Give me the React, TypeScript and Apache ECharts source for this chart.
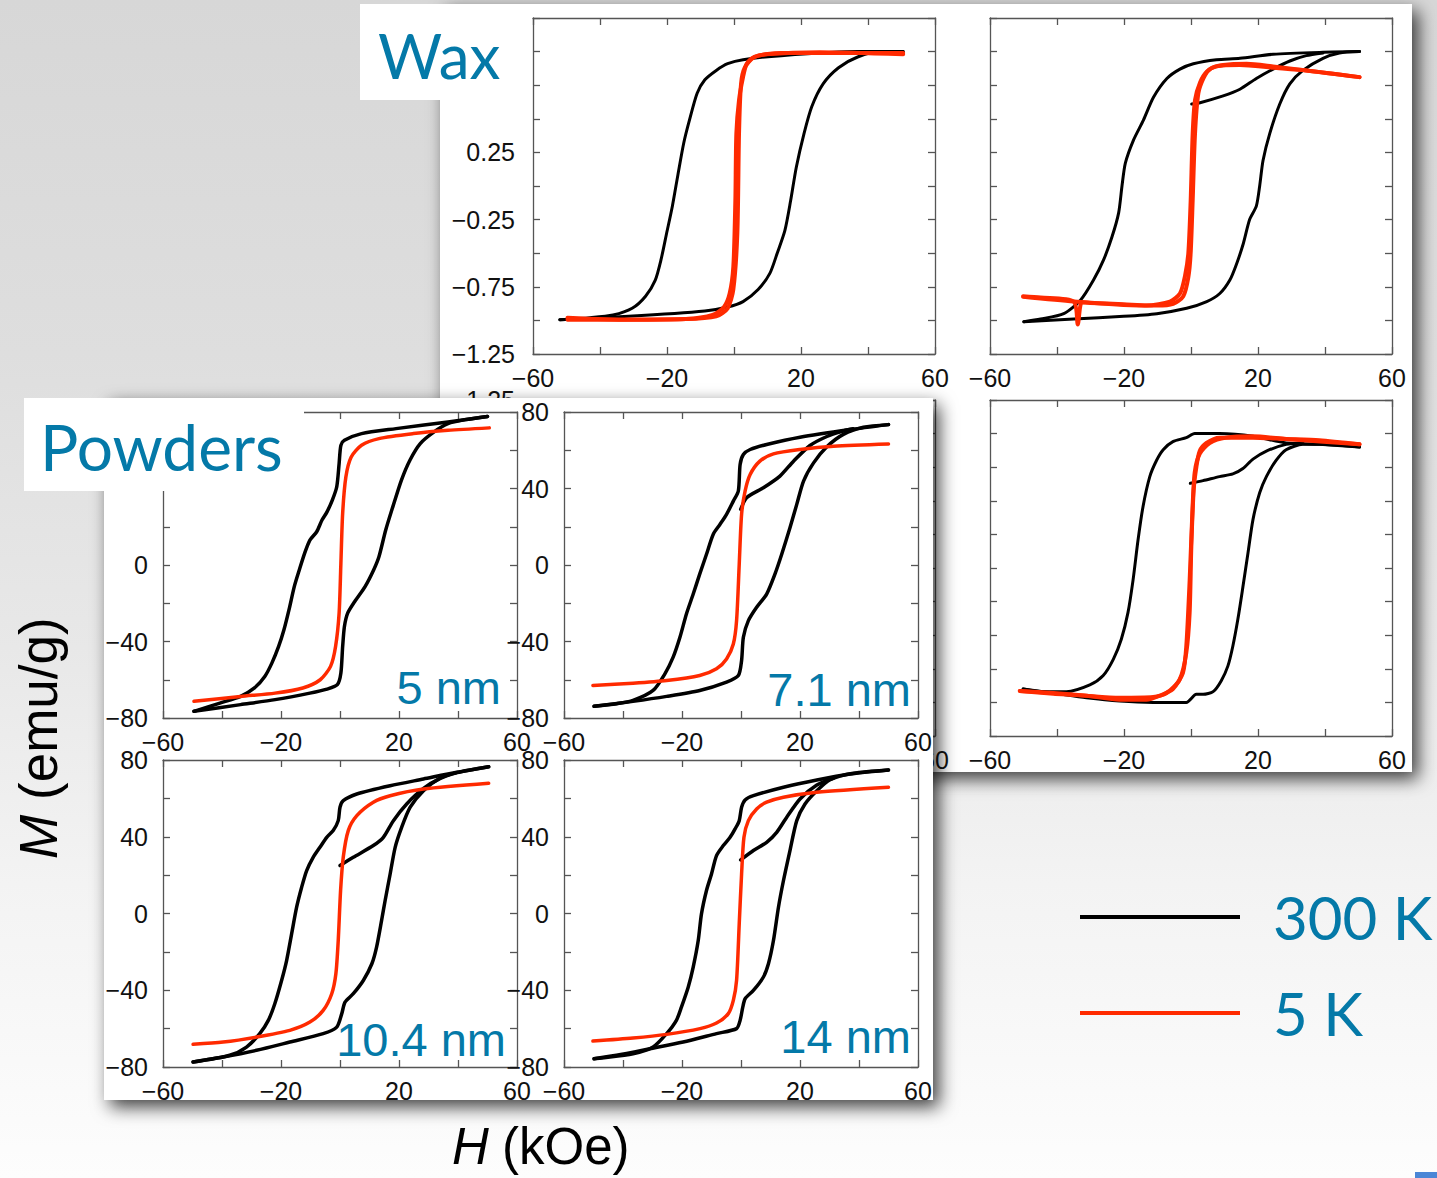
import React, { useEffect, useRef } from "react";
import * as echarts from "echarts";

type Pt = [number, number];

// ---- axes -------------------------------------------------------------
const H_MIN = -60, H_MAX = 60, H_STEP = 20;
const hTickLabels = [-60, -20, 20, 60];

const WAX_MIN = -1.25, WAX_MAX = 1.25, WAX_STEP = 0.25;
const waxTickLabels = [-1.25, -0.75, -0.25, 0.25, 0.75, 1.25];

const POW_MIN = -80, POW_MAX = 80, POW_STEP = 20;
const powTickLabels = [-80, -40, 0, 40, 80];

// ---- wax-dispersed particles, normalised moment M/Ms ------------------
// 5 nm
const wax5_300K_down: Pt[] = [[50.5,1.0],[36.9,1.0],[14.1,0.97],[2.7,0.94],[-1.9,0.91],[-5.3,0.86],[-8.7,0.79],[-11,0.69],[-13.3,0.49],[-15,0.32],[-16.7,0.09],[-18.4,-0.15],[-20.1,-0.35],[-21.8,-0.55],[-23.5,-0.7],[-26.4,-0.82],[-30.4,-0.91],[-36.1,-0.96],[-42.9,-0.98],[-52,-0.995]];
const wax5_300K_up: Pt[] = [[-52,-0.995],[-31.5,-0.97],[-8.7,-0.93],[-1.9,-0.9],[2.7,-0.86],[7.2,-0.77],[10.7,-0.65],[12.9,-0.5],[15.2,-0.33],[16.9,-0.11],[18.6,0.14],[20.9,0.39],[23.2,0.59],[26.6,0.76],[31.2,0.88],[36.9,0.96],[43.7,1.0],[50.5,1.0]];
const wax5_5K_down: Pt[] = [[50.5,0.98],[25.5,0.995],[9.5,0.98],[6.1,0.96],[3.8,0.91],[2.7,0.81],[1.5,0.64],[0.7,0.39],[0.4,-0.11],[-0.2,-0.6],[-1.3,-0.8],[-3,-0.9],[-6.4,-0.96],[-14.4,-0.99],[-31.5,-0.995],[-49.7,-0.98]];
const wax5_5K_up: Pt[] = [[-49.7,-0.995],[-14.4,-0.99],[-5.3,-0.97],[-1.9,-0.91],[-0.2,-0.77],[1,-0.35],[1.5,0.39],[2.1,0.76],[3.2,0.88],[6.1,0.96],[14.1,0.99],[50.5,0.99]];

// 7.1 nm
const wax71_300K_down: Pt[] = [[50.3,1.0],[39.4,0.995],[24.5,0.98],[14.6,0.95],[7.6,0.94],[0.7,0.91],[-3.3,0.87],[-7.2,0.8],[-11.2,0.66],[-14.2,0.49],[-17.2,0.34],[-19.6,0.17],[-20.6,0.0],[-21.6,-0.2],[-23.6,-0.38],[-26.1,-0.55],[-29.1,-0.7],[-33,-0.85],[-38,-0.95],[-44.9,-0.99],[-49.9,-1.01]];
const wax71_300K_up: Pt[] = [[-49.9,-1.01],[-35,-0.99],[-20.1,-0.97],[-10.2,-0.95],[-1.3,-0.91],[4.7,-0.86],[8.6,-0.8],[11.6,-0.7],[13.6,-0.58],[15.6,-0.43],[17.5,-0.25],[19.5,-0.15],[20.5,0.0],[21.5,0.19],[23.5,0.39],[26.5,0.61],[29.5,0.76],[33.4,0.86],[39.4,0.95],[44.3,0.99],[50.3,1.0]];
const wax71_300K_virgin: Pt[] = [[0.2,0.61],[2.7,0.62],[9.6,0.67],[14.6,0.72],[19.5,0.8],[24.5,0.87],[29.5,0.93],[34.4,0.97],[39.4,0.99]];
const wax71_5K_down: Pt[] = [[50.3,0.81],[34.4,0.86],[24.5,0.88],[14.6,0.9],[7.6,0.89],[4.7,0.85],[2.7,0.77],[1.2,0.64],[0.5,0.39],[-0.1,-0.11],[-0.8,-0.5],[-1.8,-0.67],[-3.3,-0.8],[-6.3,-0.86],[-13.2,-0.89],[-20.1,-0.88],[-30.1,-0.87],[-32.6,-0.865],[-33.8,-1.03],[-35,-0.86],[-44.9,-0.83],[-50.1,-0.82]];
const wax71_5K_up: Pt[] = [[-50.1,-0.825],[-35,-0.86],[-20.1,-0.885],[-10.2,-0.89],[-5.3,-0.877],[-2.3,-0.82],[-0.8,-0.68],[-0.1,-0.5],[0.5,-0.11],[1.2,0.39],[2.2,0.69],[3.7,0.8],[5.6,0.87],[9.6,0.9],[16.6,0.91],[24.5,0.89],[34.4,0.86],[50.3,0.81]];

// 14 nm
const wax14_300K_down: Pt[] = [[50.3,0.9],[38.3,0.92],[28.4,0.93],[18.5,0.98],[8.5,1.0],[1.1,1.0],[-1.4,0.97],[-5.4,0.94],[-8.3,0.88],[-10.3,0.8],[-12.3,0.68],[-14.3,0.46],[-15.8,0.21],[-17.3,-0.09],[-18.8,-0.33],[-20.8,-0.53],[-23.2,-0.68],[-26.2,-0.8],[-30.2,-0.87],[-37.2,-0.92],[-44.1,-0.92],[-50.1,-0.9]];
const wax14_300K_up: Pt[] = [[-50.1,-0.9],[-41.1,-0.93],[-31.2,-0.965],[-21.3,-0.99],[-11.3,-1.0],[-1.4,-1.0],[1.6,-0.94],[3.6,-0.94],[6.6,-0.92],[9,-0.84],[11,-0.73],[12.5,-0.58],[14,-0.38],[15.5,-0.14],[17,0.11],[18.5,0.36],[20.5,0.56],[22.5,0.68],[25.4,0.8],[28.4,0.88],[33.4,0.92],[38.3,0.92],[50.3,0.9]];
const wax14_300K_virgin: Pt[] = [[-0.2,0.63],[3.6,0.65],[8.5,0.68],[12.5,0.7],[15.5,0.74],[18.5,0.81],[22.5,0.87],[28.4,0.92],[33.4,0.93]];
const wax14_5K_down: Pt[] = [[50.3,0.92],[38.3,0.95],[28.4,0.96],[18.5,0.97],[8.5,0.97],[4.6,0.93],[2.6,0.87],[1.6,0.75],[0.8,0.58],[0.1,0.16],[-0.4,-0.33],[-1.4,-0.63],[-3.4,-0.83],[-7.3,-0.93],[-11.3,-0.96],[-21.3,-0.965],[-31.2,-0.95],[-41.1,-0.93],[-51.1,-0.915]];
const wax14_5K_up: Pt[] = [[-51.1,-0.915],[-41.1,-0.935],[-31.2,-0.95],[-21.3,-0.98],[-13.3,-0.98],[-9.3,-0.95],[-5.4,-0.9],[-2.4,-0.78],[-1.4,-0.58],[-0.4,-0.09],[0.4,0.41],[1.1,0.71],[2.6,0.85],[5.6,0.93],[10.5,0.97],[18.5,0.98],[28.4,0.96],[50.3,0.92]];

// ---- powders, M in emu/g ---------------------------------------------
// 5 nm
const pow5_300K_down: Pt[] = [[50,77.7],[36.6,74.8],[19,71.3],[7.3,68.7],[1.5,65.2],[0.3,62.6],[-0.3,53],[-1.1,40.9],[-2.6,33.9],[-4.4,27.8],[-6.1,23.5],[-7.9,17.4],[-10.2,13],[-12,6.1],[-13.8,-2.6],[-15.5,-11.3],[-17.3,-23.5],[-19,-33.9],[-20.8,-42.6],[-23.1,-51.3],[-25.5,-58.3],[-29,-64.3],[-33.7,-68.7],[-40.7,-72.2],[-49.5,-76.5]];
const pow5_300K_up: Pt[] = [[-49.5,-76.5],[-33.7,-73],[-22,-70.4],[-10.2,-67],[-4.4,-64.9],[-0.9,-62.6],[0.3,-56.5],[0.9,-42.6],[1.5,-32.2],[2.6,-25.2],[5,-19.1],[8.5,-11.3],[11.4,-2.6],[13.2,4.3],[15.5,18.3],[17.9,30.4],[20.8,44.3],[23.7,54.8],[27.2,63.5],[31.9,69.6],[36.6,73.9],[42.4,76],[50,77.7]];
const pow5_5K: Pt[] = [[-49.5,-71.3],[-33.7,-68.7],[-22,-67],[-12.6,-64.3],[-6.7,-60],[-3.2,-53],[-1.5,-42.6],[-0.3,-25.2],[0.3,0.9],[0.9,27],[2,46.1],[3.8,56.5],[7.3,62.6],[13.2,66.1],[24.9,68.7],[36.6,70.4],[50.6,71.7]];

// 7.1 nm
const pow71_300K_down: Pt[] = [[50,73.4],[37,70.8],[20,66.8],[8.7,63],[3.1,60.4],[0.8,57.8],[-0.3,52.6],[-0.9,38.7],[-2.6,33.4],[-4.9,26.5],[-7.1,21.3],[-9.4,16.1],[-11.7,5.6],[-14,-4.8],[-16.2,-15.2],[-18.5,-25.6],[-20.7,-37.8],[-23,-48.2],[-25.8,-56.9],[-29.8,-65.6],[-36.6,-70.8],[-42.2,-72.5],[-49.8,-73.9]];
const pow71_300K_up: Pt[] = [[-49.8,-73.9],[-36.6,-71.3],[-25.2,-68.7],[-14,-65.6],[-4.9,-61.2],[-0.9,-57.8],[0.2,-49.9],[0.8,-37.8],[2.5,-29.1],[5.3,-22.1],[8.7,-15.2],[11.5,-4.8],[13.8,5.6],[16.6,19.5],[18.9,31.7],[21.2,43.9],[24.6,53.4],[29.1,61.8],[34.7,68.3],[41.5,72],[50,73.4]];
const pow71_300K_virgin: Pt[] = [[-0.1,29.1],[1.9,35.2],[7.6,40.4],[13.2,46.5],[17.8,54.3],[23.4,62.5],[29.1,67.2],[34,69.8],[38,71.2]];
const pow71_5K: Pt[] = [[-50.2,-63],[-36.6,-61.8],[-25.2,-60.4],[-14,-57.8],[-8.3,-54.3],[-4.9,-49.1],[-2.6,-41.3],[-1.5,-29.1],[-0.6,0.4],[0.2,26.5],[1.4,38.7],[3.1,47.3],[6.4,54.3],[11,58.1],[20,60.4],[31.4,62.1],[50,63.3]];

// 10.4 nm
const pow104_300K_down: Pt[] = [[50.4,76.5],[39.6,73.6],[28.3,70.1],[17,66.6],[5.7,62.3],[1.1,58.8],[0,55.4],[-0.6,48.4],[-2.3,43.2],[-4.5,39.7],[-6.8,34.5],[-9.1,29.3],[-11.3,22.4],[-13,13.7],[-14.7,3.3],[-16.4,-10.6],[-18.1,-24.5],[-19.8,-34.9],[-22.1,-47],[-24.3,-55.7],[-27.2,-62.6],[-31.7,-69.6],[-37.4,-73.9],[-49.8,-77.4]];
const pow104_300K_up: Pt[] = [[-49.8,-77.4],[-39.6,-74.8],[-28.3,-71.3],[-17,-67],[-5.7,-62.6],[-1.1,-59.2],[0.6,-52.2],[1.7,-46.2],[4.5,-41.8],[7.9,-34.9],[10.8,-26.2],[12.4,-17.5],[14.1,-3.6],[15.3,6.8],[17,20.6],[18.7,34.5],[20.9,44.9],[23.8,55.4],[28.3,64],[34,70.6],[39.6,73.4],[50.4,76.5]];
const pow104_300K_virgin: Pt[] = [[0,25],[4.5,29.3],[11.3,35.4],[14.7,39.7],[18.1,48.4],[22.6,57.1],[28.3,65.2],[34,70.4],[39.6,73.4]];
const pow104_5K: Pt[] = [[-49.8,-68.2],[-39.6,-67],[-28.3,-64.4],[-17,-60.9],[-10.2,-56.6],[-5.7,-50.5],[-2.8,-41.8],[-1.4,-31.4],[-0.6,-14.1],[0.2,12],[1.1,29.3],[2.8,43.2],[5.7,51],[11.3,58],[17,61.4],[28.3,64.9],[50.4,67.9]];

// 14 nm
const pow14_300K_down: Pt[] = [[50,74.8],[37,72.7],[25.7,69.6],[14.4,65.8],[4.2,61.4],[1.4,59.2],[0.2,55.4],[-0.6,48.4],[-2,44.1],[-3.7,39.7],[-6,35.4],[-8.3,30.2],[-10,20.6],[-11.7,12],[-13.4,-0.2],[-14.5,-14.1],[-16.2,-27.9],[-17.9,-38.4],[-20.2,-48.8],[-21.9,-55.7],[-25.2,-62.6],[-29.8,-69.6],[-36.6,-73.1],[-49.8,-75.7]];
const pow14_300K_up: Pt[] = [[-49.8,-75.7],[-42.2,-73.9],[-30.9,-70.5],[-19.6,-67],[-8.3,-62.6],[-1.5,-60],[-0.3,-55.7],[0.6,-48.8],[1.4,-44.4],[4.2,-40.1],[7.6,-33.1],[9.3,-26.2],[11,-14.1],[12.7,3.3],[14.4,17.2],[16.6,32.8],[18.9,48.4],[21.7,57.1],[25.7,64],[30.2,69.8],[38.1,73.1],[50,74.8]];
const pow14_300K_virgin: Pt[] = [[-0.1,27.9],[4.2,32.8],[8.7,37.1],[12.1,42.3],[15.5,50.2],[20,59.7],[25.7,67],[31.4,70.6]];
const pow14_5K: Pt[] = [[-50.2,-66.5],[-36.6,-64.9],[-25.2,-63],[-13.9,-60],[-8.3,-57.1],[-4.3,-52.2],[-2.6,-45.3],[-1.5,-34.9],[-0.6,-5.4],[0.2,20.6],[1,39.7],[2.5,48.4],[5.3,54.5],[8.7,58],[14.4,60.6],[25.7,63.2],[50,65.8]];

// ---- styling ----------------------------------------------------------
const BLACK = "#000000";
const RED = "#ff2a00";
const BLUE = "#0479a8";
const FRAME = "#555555";
const TICK_FONT = "'Liberation Sans', Arial, Helvetica, sans-serif";
const SLIDE_FONT = "Lato, 'Open Sans', sans-serif";
const T300 = "300 K";
const T5 = "5 K";

type Curve = { name: string; data: Pt[]; width: number };
type Panel = {
  grid: { left: number; top: number; width: number; height: number };
  kind: "wax" | "pow";
  xLabels: number[];
  yLabels: number[];
  layer: number;
  curves: Curve[];
};

const panels: Panel[] = [
  // wax, 5 nm
  {
    grid: { left: 533, top: 18, width: 402, height: 336 }, kind: "wax", layer: 0,
    xLabels: hTickLabels, yLabels: waxTickLabels.filter((v) => v < 0.5),
    curves: [
      { name: T300, data: wax5_300K_down, width: 3 },
      { name: T300, data: wax5_300K_up, width: 3 },
      { name: T5, data: wax5_5K_down, width: 4 },
      { name: T5, data: wax5_5K_up, width: 4 },
    ],
  },
  // wax, 7.1 nm
  {
    grid: { left: 990, top: 18, width: 402, height: 336 }, kind: "wax", layer: 0,
    xLabels: hTickLabels, yLabels: [],
    curves: [
      { name: T300, data: wax71_300K_down, width: 3 },
      { name: T300, data: wax71_300K_up, width: 3 },
      { name: T300, data: wax71_300K_virgin, width: 3 },
      { name: T5, data: wax71_5K_down, width: 4 },
      { name: T5, data: wax71_5K_up, width: 4 },
    ],
  },
  // wax, 10.4 nm (lies under the powders sheet)
  {
    grid: { left: 533, top: 400, width: 402, height: 336 }, kind: "wax", layer: 0,
    xLabels: [60], yLabels: [1.25],
    curves: [],
  },
  // wax, 14 nm
  {
    grid: { left: 990, top: 400, width: 402, height: 336 }, kind: "wax", layer: 0,
    xLabels: hTickLabels, yLabels: [],
    curves: [
      { name: T300, data: wax14_300K_down, width: 3 },
      { name: T300, data: wax14_300K_up, width: 3 },
      { name: T300, data: wax14_300K_virgin, width: 3 },
      { name: T5, data: wax14_5K_down, width: 4 },
      { name: T5, data: wax14_5K_up, width: 4 },
    ],
  },
  // powders, 5 nm
  {
    grid: { left: 163, top: 412, width: 354, height: 306 }, kind: "pow", layer: 1,
    xLabels: hTickLabels, yLabels: powTickLabels.filter((v) => v <= 0),
    curves: [
      { name: T300, data: pow5_300K_down, width: 3.5 },
      { name: T300, data: pow5_300K_up, width: 3.5 },
      { name: T5, data: pow5_5K, width: 3.5 },
    ],
  },
  // powders, 7.1 nm
  {
    grid: { left: 564, top: 412, width: 354, height: 306 }, kind: "pow", layer: 1,
    xLabels: hTickLabels, yLabels: powTickLabels,
    curves: [
      { name: T300, data: pow71_300K_down, width: 3.5 },
      { name: T300, data: pow71_300K_up, width: 3.5 },
      { name: T300, data: pow71_300K_virgin, width: 3.5 },
      { name: T5, data: pow71_5K, width: 3.5 },
    ],
  },
  // powders, 10.4 nm
  {
    grid: { left: 163, top: 760, width: 354, height: 307 }, kind: "pow", layer: 1,
    xLabels: hTickLabels, yLabels: powTickLabels,
    curves: [
      { name: T300, data: pow104_300K_down, width: 3.5 },
      { name: T300, data: pow104_300K_up, width: 3.5 },
      { name: T300, data: pow104_300K_virgin, width: 3.5 },
      { name: T5, data: pow104_5K, width: 3.5 },
    ],
  },
  // powders, 14 nm
  {
    grid: { left: 564, top: 760, width: 354, height: 307 }, kind: "pow", layer: 1,
    xLabels: hTickLabels, yLabels: powTickLabels,
    curves: [
      { name: T300, data: pow14_300K_down, width: 3.5 },
      { name: T300, data: pow14_300K_up, width: 3.5 },
      { name: T300, data: pow14_300K_virgin, width: 3.5 },
      { name: T5, data: pow14_5K, width: 3.5 },
    ],
  },
];

const sizeLabels = [
  { text: "5 nm", x: 501, y: 687 },
  { text: "7.1 nm", x: 911, y: 689 },
  { text: "10.4 nm", x: 506, y: 1039 },
  { text: "14 nm", x: 911, y: 1036 },
];

const has = (list: number[], v: number) => list.some((t) => Math.abs(t - v) < 1e-6);
const signed = (v: number, digits: number) => {
  const s = Math.abs(v).toFixed(digits);
  return v < -1e-9 ? "\u2212" + s : s;
};

function axisPair(gridIndex: number, dim: "x" | "y", min: number, max: number, step: number,
  labels: number[], digits: number, z: number, yMargin: number) {
  const common: any = {
    gridIndex, type: "value", min, max, interval: step, z,
    splitLine: { show: false },
    axisLine: { show: true, onZero: false, lineStyle: { color: FRAME, width: 1.3 } },
    axisTick: { show: true, inside: true, length: 7, lineStyle: { color: FRAME, width: 1.3 } },
  };
  const main = {
    ...common,
    position: dim === "x" ? "bottom" : "left",
    axisLabel: {
      show: labels.length > 0,
      margin: dim === "x" ? 11 : yMargin,
      fontSize: 25,
      fontFamily: TICK_FONT,
      color: "#111",
      formatter: (v: number) => (has(labels, v) ? signed(v, digits) : ""),
    },
  };
  const mirror = { ...common, position: dim === "x" ? "top" : "right", axisLabel: { show: false } };
  return [main, mirror];
}

function buildOption() {
  const grid: any[] = [];
  const xAxis: any[] = [];
  const yAxis: any[] = [];
  const series: any[] = [];

  panels.forEach((p, i) => {
    const axisZ = p.layer === 0 ? 3 : 12;
    const seriesZ = p.layer === 0 ? 4 : 13;
    grid.push({ ...p.grid, containLabel: false });
    xAxis.push(...axisPair(i, "x", H_MIN, H_MAX, H_STEP, p.xLabels, 0, axisZ, 0));
    if (p.kind === "wax") {
      yAxis.push(...axisPair(i, "y", WAX_MIN, WAX_MAX, WAX_STEP, p.yLabels, 2, axisZ, 18));
    } else {
      yAxis.push(...axisPair(i, "y", POW_MIN, POW_MAX, POW_STEP, p.yLabels, 0, axisZ, 15));
    }
    p.curves.forEach((c) => {
      const color = c.name === T300 ? BLACK : RED;
      series.push({
        type: "line",
        name: c.name,
        data: c.data,
        xAxisIndex: 2 * i,
        yAxisIndex: 2 * i,
        showSymbol: false,
        symbol: "none",
        smooth: 0.25,
        z: seriesZ,
        silent: true,
        lineStyle: { color, width: c.width, cap: "round", join: "round" },
        itemStyle: { color },
        emphasis: { disabled: true },
      });
    });
  });

  const txt = (text: string, x: number, y: number, font: string, fill: string, align: string, z: number) => ({
    type: "text", x, y, z,
    style: { text, font, fill, align, verticalAlign: "middle", textAlign: align, textVerticalAlign: "middle" },
  });

  const sheetShadow = { shadowBlur: 18, shadowOffsetX: 6, shadowOffsetY: 7, shadowColor: "rgba(0,0,0,0.75)" };

  const elements: any[] = [
    // wax sheet
    { type: "rect", z: 1, shape: { x: 440, y: 4, width: 972, height: 768 }, style: { fill: "#fff", ...sheetShadow } },
    { type: "rect", z: 1, shape: { x: 360, y: 4, width: 100, height: 96 }, style: { fill: "#fff" } },
    txt("Wax", 378, 55, `62px ${SLIDE_FONT}`, BLUE, "left", 6),
    // powders sheet
    { type: "rect", z: 10, shape: { x: 104, y: 398, width: 829, height: 702 }, style: { fill: "#fff", ...sheetShadow } },
    { type: "rect", z: 14, shape: { x: 24, y: 398, width: 280, height: 93 }, style: { fill: "#fff" } },
    txt("Powders", 40, 446, `64px ${SLIDE_FONT}`, BLUE, "left", 15),
    ...sizeLabels.map((s) => txt(s.text, s.x, s.y, `47px ${TICK_FONT}`, BLUE, "right", 15)),
    // axis titles
    {
      type: "group", x: 38, y: 859, rotation: Math.PI / 2, z: 0,
      children: [
        txt("M", 0, 0, `italic 53px ${TICK_FONT}`, "#000", "left", 0),
        txt("(emu/g)", 59, 0, `53px ${TICK_FONT}`, "#000", "left", 0),
      ],
    },
    txt("H", 452, 1146, `italic 51px ${TICK_FONT}`, "#000", "left", 0),
    txt("(kOe)", 502, 1146, `51px ${TICK_FONT}`, "#000", "left", 0),
    { type: "rect", z: 0, shape: { x: 1415, y: 1172, width: 22, height: 6 }, style: { fill: "#4a86d6" } },
  ];

  return {
    animation: false,
    backgroundColor: "transparent",
    grid,
    xAxis,
    yAxis,
    series,
    legend: {
      orient: "vertical",
      left: 1080,
      top: 880,
      padding: 0,
      itemGap: 22,
      icon: "rect",
      itemWidth: 160,
      itemHeight: 4,
      selectedMode: false,
      data: [T300, T5],
      textStyle: { fontFamily: SLIDE_FONT, fontSize: 60, lineHeight: 62, color: BLUE, padding: [0, 0, 12, 28] },
    },
    graphic: { elements },
  };
}

export default function App() {
  const ref = useRef<HTMLDivElement>(null);
  useEffect(() => {
    if (!ref.current) return;
    const chart = echarts.init(ref.current, undefined, { renderer: "svg" });
    chart.setOption(buildOption() as any);
    return () => chart.dispose();
  }, []);
  return (
    <div
      ref={ref}
      style={{
        position: "absolute",
        left: 0,
        top: 0,
        width: 1437,
        height: 1178,
        background:
          "linear-gradient(to bottom, #d7d7d7 0%, #dedede 30%, #e8e8e8 55%, #f3f3f3 75%, #fdfdfd 100%)",
      }}
    />
  );
}
